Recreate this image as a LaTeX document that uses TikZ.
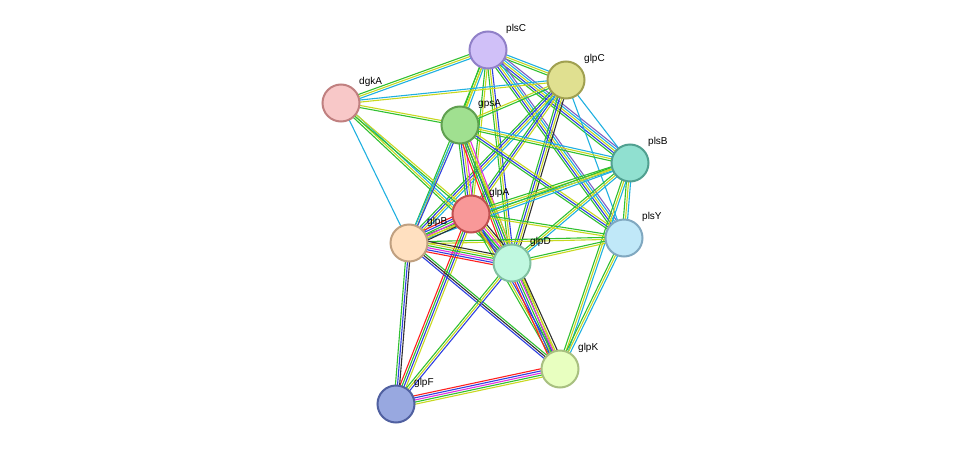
\documentclass[tikz,border=0pt]{standalone}
\usepackage{fontspec}
\setmainfont{Liberation Sans}
\usetikzlibrary{calc}
\definecolor{eg}{HTML}{30C030}
\definecolor{eb}{HTML}{3040E0}
\definecolor{ek}{HTML}{303030}
\definecolor{er}{HTML}{FF2020}
\definecolor{ec}{HTML}{20B0E0}
\definecolor{em}{HTML}{E030E0}
\definecolor{ey}{HTML}{C8D820}
\definecolor{ep}{HTML}{8060C0}
\definecolor{fplsC}{HTML}{D0C0F8}\definecolor{dplsC}{HTML}{9080C8}
\definecolor{fglpC}{HTML}{E0E090}\definecolor{dglpC}{HTML}{A0A050}
\definecolor{fdgkA}{HTML}{F8C8C8}\definecolor{ddgkA}{HTML}{C08080}
\definecolor{fgpsA}{HTML}{A0E090}\definecolor{dgpsA}{HTML}{60A050}
\definecolor{fplsB}{HTML}{90E0D0}\definecolor{dplsB}{HTML}{50A090}
\definecolor{fglpA}{HTML}{F89898}\definecolor{dglpA}{HTML}{C05050}
\definecolor{fglpB}{HTML}{FFE0C0}\definecolor{dglpB}{HTML}{C0A080}
\definecolor{fplsY}{HTML}{C0E8F8}\definecolor{dplsY}{HTML}{80A8C0}
\definecolor{fglpD}{HTML}{C0F8E0}\definecolor{dglpD}{HTML}{80C0A0}
\definecolor{fglpK}{HTML}{E8FFC0}\definecolor{dglpK}{HTML}{A8C080}
\definecolor{fglpF}{HTML}{98A8E0}\definecolor{dglpF}{HTML}{5060A0}
\newcommand\ed[3]{%
 \def\nn{0}\foreach \c in {#3}{\xdef\nn{\the\numexpr\nn+1}}%
 \foreach \c [count=\i] in {#3}{%
   \pgfmathsetmacro\o{(\i-(\nn+1)/2)*2.1}%
   \draw[\c, line width=1.1pt] ($(#1)!\o pt!90:(#2)$) -- ($(#2)!\o pt!-90:(#1)$);}}
\tikzset{prot/.style={circle, minimum size=37pt, inner sep=0pt, line width=2pt, fill=f#1, draw=d#1},
 lbl/.style={anchor=west, font=\fontsize{10}{10}\selectfont, inner sep=0pt}}
\begin{document}
\begin{tikzpicture}[x=1pt,y=-1pt]
\useasboundingbox (0,0) rectangle (975,450);
\coordinate (plsC) at (488,50);
\coordinate (glpC) at (566,80);
\coordinate (dgkA) at (341,103);
\coordinate (gpsA) at (460,125);
\coordinate (plsB) at (630,163);
\coordinate (glpA) at (471,214);
\coordinate (glpB) at (409,243);
\coordinate (plsY) at (624,238);
\coordinate (glpD) at (512,263);
\coordinate (glpK) at (560,369);
\coordinate (glpF) at (396,404);
\ed{plsC}{glpC}{eg,ey,ec}
\ed{plsC}{dgkA}{eg,ey,ec}
\ed{plsC}{gpsA}{eg,ey,ec}
\ed{plsC}{plsB}{eg,eb,ey,ec,ep}
\ed{plsC}{plsY}{eg,eb,ey,ec,ep}
\ed{plsC}{glpD}{eg,ey,eb}
\ed{plsC}{glpA}{eg,ey}
\ed{plsC}{glpB}{eg,ey}
\ed{glpC}{dgkA}{ec,ey}
\ed{glpC}{gpsA}{ey,eg}
\ed{glpC}{plsB}{ec}
\ed{glpC}{plsY}{ec}
\ed{glpC}{glpA}{eg,eb,ey}
\ed{glpC}{glpB}{eg,eb,ey,ec}
\ed{glpC}{glpD}{eg,eb,ey,ek}
\ed{dgkA}{gpsA}{eg,ey}
\ed{dgkA}{glpB}{ec}
\ed{dgkA}{glpD}{eg,ey,ec}
\ed{dgkA}{glpA}{eg,ey}
\ed{gpsA}{plsB}{eg,ey,ec}
\ed{gpsA}{plsY}{eg,eb,ey}
\ed{gpsA}{glpA}{eg,eb,ey,em}
\ed{gpsA}{glpD}{er,eg,eb,ey,em}
\ed{gpsA}{glpB}{ec,eb}
\ed{gpsA}{glpK}{eg,ey}
\ed{plsB}{plsY}{eg,ey,ec}
\ed{plsB}{glpA}{eg,ey,ec}
\ed{plsB}{glpB}{eg,ey,ec}
\ed{plsB}{glpD}{eg,ey,ec}
\ed{plsB}{glpK}{eg,ey,ec}
\ed{plsY}{glpA}{eg,ey}
\ed{plsY}{glpB}{eg,ey}
\ed{plsY}{glpD}{eg,ey}
\ed{plsY}{glpK}{eg,ey,ec}
\ed{glpA}{glpB}{er,eb,eg,em,ey,ek}
\ed{glpA}{glpD}{er,eb,eg,em,ey,ek}
\ed{glpA}{glpK}{eg,ey,eb}
\ed{glpA}{glpF}{er,eg,eb,ey}
\ed{glpB}{glpD}{er,eb,em,eg,ey,ek}
\ed{glpB}{glpK}{eb,ek,eg}
\ed{glpB}{glpF}{eg,eb,ek}
\ed{glpD}{glpK}{er,eb,eg,em,ey,ek}
\ed{glpD}{glpF}{eg,ey,eb}
\ed{glpK}{glpF}{er,eb,em,eg,ey}
\foreach \n in {plsC,glpC,dgkA,gpsA,plsB,glpA,glpB,plsY,glpD,glpK,glpF}
  \node[prot=\n] (n\n) at (\n) {};
\foreach \n in {plsC,glpC,dgkA,gpsA,plsB,glpA,glpB,plsY,glpD,glpK,glpF}
  \node[lbl] (l\n) at ($(\n)+(18,-21)$) {\n};
\end{tikzpicture}
\end{document}
